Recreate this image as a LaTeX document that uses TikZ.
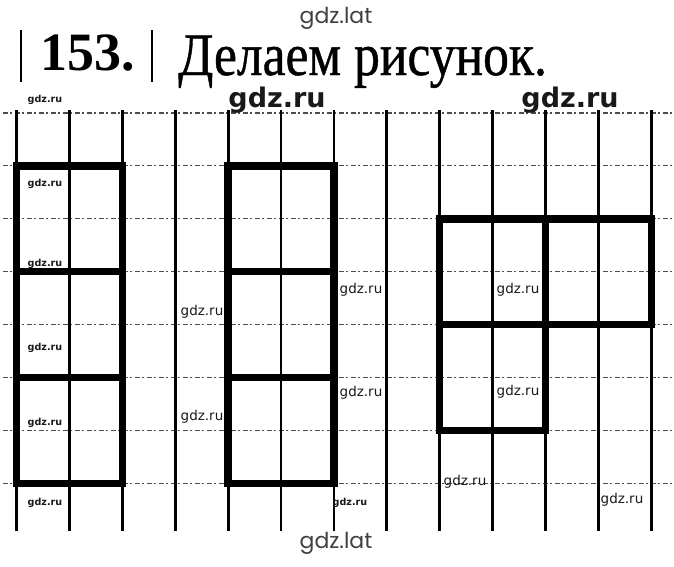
\documentclass[tikz,border=0pt]{standalone}
\usepackage{fontspec}
\setmainfont{Liberation Serif}
\newfontfamily\titlefont[FakeBold=0.8]{Liberation Serif}
\newfontfamily\wmsans{DejaVu Sans}
\newfontfamily\wmlat{Poppins}
\tikzset{
  gridv/.style={line width=2.8pt, black},
  gridh/.style={line width=1.1pt, black!70, dash pattern=on 5pt off 2pt on 2pt off 3pt},
  thick shape/.style={line width=7.5pt, black, line cap=rect, line join=miter},
  wmsmall/.style={anchor=base, font=\wmsans\bfseries\fontsize{9.6}{10}\selectfont, text=black!90, inner sep=0pt},
  wmreg/.style={anchor=base, font=\wmsans\fontsize{13.5}{14}\selectfont, text=black!90, inner sep=0pt},
  wmbig/.style={anchor=base, font=\wmsans\bfseries\fontsize{27}{30}\selectfont, text=black!90, inner sep=0pt},
  wmlat/.style={anchor=base, font=\wmlat\fontsize{22}{24}\selectfont, text=black!75, inner sep=0pt},
}
\begin{document}
\begin{tikzpicture}[x=1pt,y=-1pt]
\useasboundingbox (0,0) rectangle (674,566);
% grid coordinates
\def\gx#1{16.5+52.9*#1}
\def\gy#1{113+52.9*#1}
% horizontal dashed lines
\foreach \r in {0,...,7}{
  \draw[gridh] (3,{\gy{\r}}) -- (674,{\gy{\r}});
}
% vertical lines
\foreach \c in {0,...,12}{
  \draw[gridv] ({\gx{\c}},110) -- ({\gx{\c}},531);
}
% left rectangle
\draw[thick shape] ({\gx{0}},{\gy{1}}) rectangle ({\gx{2}},{\gy{7}});
\draw[thick shape] ({\gx{0}},{\gy{3}}) -- ({\gx{2}},{\gy{3}});
\draw[thick shape] ({\gx{0}},{\gy{5}}) -- ({\gx{2}},{\gy{5}});
% middle rectangle
\draw[thick shape] ({\gx{4}},{\gy{1}}) rectangle ({\gx{6}},{\gy{7}});
\draw[thick shape] ({\gx{4}},{\gy{3}}) -- ({\gx{6}},{\gy{3}});
\draw[thick shape] ({\gx{4}},{\gy{5}}) -- ({\gx{6}},{\gy{5}});
% right figure
\draw[thick shape] ({\gx{8}},{\gy{2}}) rectangle ({\gx{12}},{\gy{4}});
\draw[thick shape] ({\gx{10}},{\gy{2}}) -- ({\gx{10}},{\gy{6}}) -- ({\gx{8}},{\gy{6}}) -- ({\gx{8}},{\gy{4}});
% title
\draw[line width=2.6pt] (21,30) -- (21,82);
\draw[line width=2.6pt] (152,30) -- (152,82);
\node[anchor=base west, inner sep=0pt, font=\bfseries\fontsize{54}{58}\selectfont] (num) at (40,70) {153.};
\node[anchor=base west, inner sep=0pt, font=\titlefont\fontsize{60}{64}\selectfont] (title) at (178,75) {\scalebox{0.86}[1]{Делаем рисунок.}};
% watermarks
\node[wmlat] (lat1) at (336,23) {gdz.lat};
\node[wmlat] (lat2) at (336,548) {gdz.lat};
\node[wmbig] (big1) at (277,107) {gdz.ru};
\node[wmbig] (big2) at (570,107) {gdz.ru};
\foreach \yy [count=\i] in {102,186,266,350,425,505}{
  \node[wmsmall] (s\i) at (45,\yy) {gdz.ru};
}
\node[wmsmall] (s7) at (350,505) {gdz.ru};
\node[wmreg] (r1) at (202,315) {gdz.ru};
\node[wmreg] (r2) at (202,420) {gdz.ru};
\node[wmreg] (r3) at (361,293) {gdz.ru};
\node[wmreg] (r4) at (361,396) {gdz.ru};
\node[wmreg] (r5) at (518,293) {gdz.ru};
\node[wmreg] (r6) at (518,395) {gdz.ru};
\node[wmreg] (r7) at (465,485) {gdz.ru};
\node[wmreg] (r8) at (622,503) {gdz.ru};
\end{tikzpicture}
\end{document}
